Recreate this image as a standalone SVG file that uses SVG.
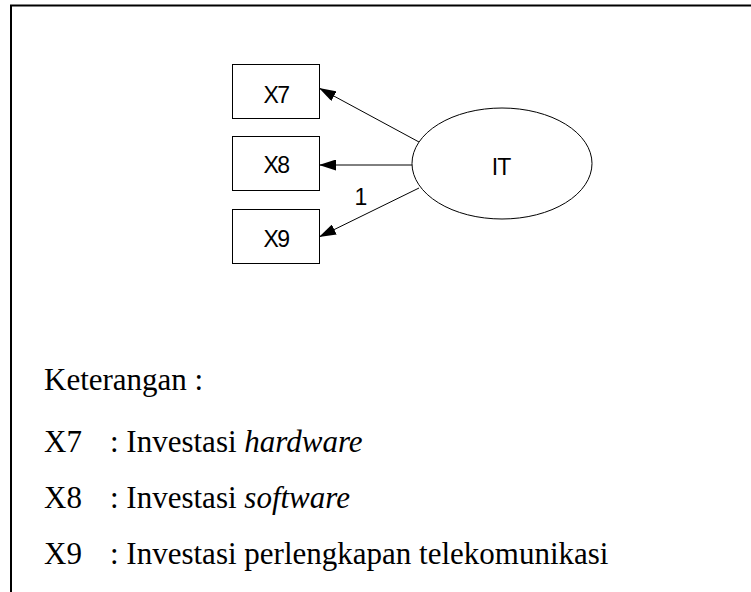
<svg xmlns="http://www.w3.org/2000/svg" width="751" height="592" viewBox="0 0 751 592">
  <style>
    .node-box { fill: #ffffff; stroke: #000000; stroke-width: 1; }
    .node-oval { fill: #ffffff; stroke: #000000; stroke-width: 1; }
    .lbl { font-family: "Liberation Sans", Arial, sans-serif; font-size: 23px; fill: #000000; text-anchor: middle; }
    .edge { stroke: #000000; stroke-width: 1; fill: none; marker-end: url(#arrow); }
    .legend { font-family: "Liberation Serif", "Times New Roman", serif; font-size: 31px; fill: #000000; }
    .frame { stroke: #000000; stroke-width: 2; fill: none; }
  </style>
  <defs>
    <marker id="arrow" markerWidth="17" markerHeight="11" refX="17" refY="5.5" orient="auto" markerUnits="userSpaceOnUse">
      <path d="M0,0 L17,5.5 L0,11 Z" fill="#000000"/>
    </marker>
  </defs>

  <rect width="751" height="592" fill="#ffffff"/>
  <!-- open frame: top and left edges -->
  <path class="frame" d="M11,592 L11,5.5 L751,5.5"/>

  <g id="connectors">
    <line class="edge" x1="419" y1="142" x2="319" y2="88"/>
    <line class="edge" x1="412" y1="165" x2="319" y2="165"/>
    <line class="edge" x1="419" y1="188" x2="319" y2="237"/>
    <text class="lbl" x="361" y="205" font-size="21">1</text>
  </g>

  <g id="X7">
    <rect class="node-box" x="232.5" y="64.5" width="87" height="54"/>
    <text class="lbl" x="276" y="103" letter-spacing="-1.5">X7</text>
  </g>
  <g id="X8">
    <rect class="node-box" x="232.5" y="136.5" width="87" height="54"/>
    <text class="lbl" x="276" y="173" letter-spacing="-1.5">X8</text>
  </g>
  <g id="X9">
    <rect class="node-box" x="232.5" y="209.5" width="87" height="54"/>
    <text class="lbl" x="276" y="247" letter-spacing="-1.5">X9</text>
  </g>
  <g id="IT">
    <ellipse class="node-oval" cx="502" cy="163.5" rx="90" ry="55.5"/>
    <text class="lbl" x="501" y="175" font-size="24" letter-spacing="-1">IT</text>
  </g>

  <g id="legend">
    <text class="legend" x="44" y="390">Keterangan :</text>
    <text class="legend" x="44" y="452">X7</text>
    <text class="legend" x="110" y="452">: Investasi <tspan font-style="italic">hardware</tspan></text>
    <text class="legend" x="44" y="508">X8</text>
    <text class="legend" x="110" y="508">: Investasi <tspan font-style="italic">software</tspan></text>
    <text class="legend" x="44" y="564">X9</text>
    <text class="legend" x="110" y="564">: Investasi perlengkapan telekomunikasi</text>
  </g>
</svg>
